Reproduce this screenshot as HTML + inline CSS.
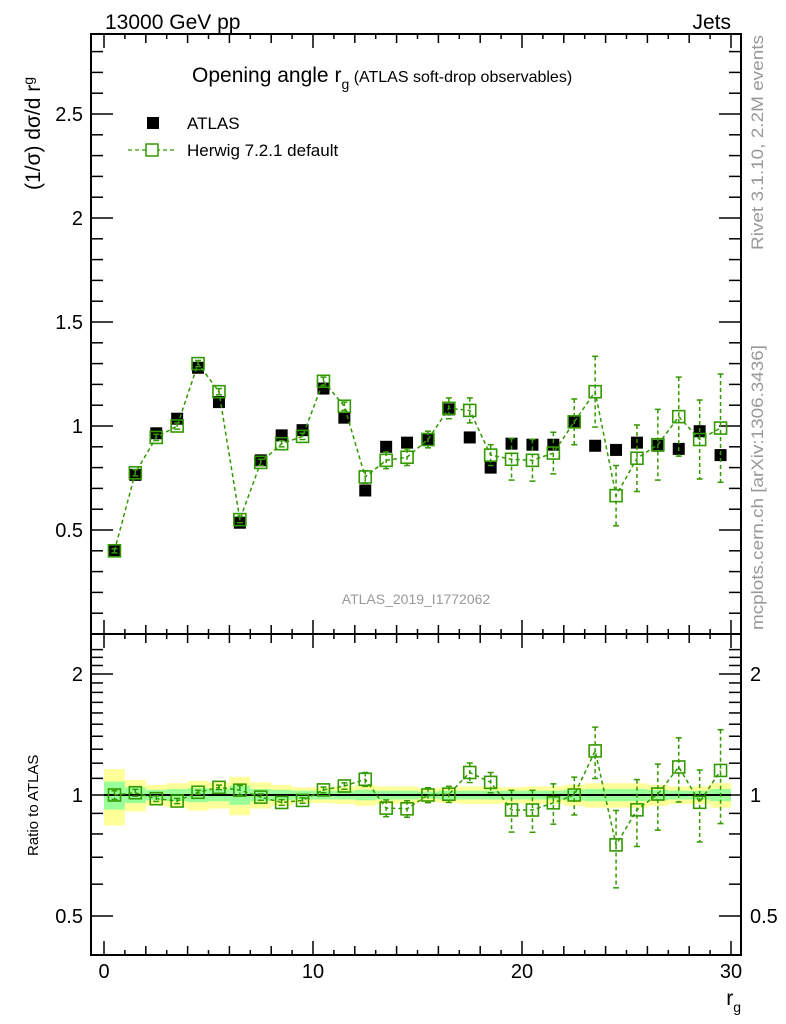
<!DOCTYPE html>
<html><head><meta charset="utf-8"><style>
body{margin:0;background:#fff}
svg{display:block;font-family:"Liberation Sans",sans-serif}
</style></head><body>
<svg id="c" width="786" height="1024">
<text x="105" y="29" font-size="21">13000 GeV pp</text>
<text x="731" y="29" font-size="21" text-anchor="end">Jets</text>
<text x="192" y="82" font-size="21">Opening angle r<tspan font-size="14" dy="7">g</tspan><tspan font-size="16" dy="-7"> (ATLAS soft-drop observables)</tspan></text>
<text transform="translate(40,190) rotate(-90)" font-size="21">(1/σ) dσ/d r<tspan font-size="14" dy="-7">g</tspan></text>
<text transform="translate(763,250) rotate(-90)" font-size="17" fill="#999" textLength="215" lengthAdjust="spacingAndGlyphs">Rivet 3.1.10,  2.2M events</text>
<text transform="translate(763,630) rotate(-90)" font-size="17" fill="#999" textLength="285" lengthAdjust="spacingAndGlyphs">mcplots.cern.ch [arXiv:1306.3436]</text>
<text x="416" y="604" font-size="14" fill="#999" text-anchor="middle">ATLAS_2019_I1772062</text>
<text transform="translate(38,856) rotate(-90)" font-size="15">Ratio to ATLAS</text>
<text x="741" y="1005" font-size="21" text-anchor="end">r<tspan font-size="14" dy="7">g</tspan></text>
<rect x="147" y="117" width="12" height="12" fill="#000"/>
<text x="187" y="129" font-size="17">ATLAS</text>
<line x1="128" y1="150" x2="175" y2="150" stroke="#339900" stroke-dasharray="4,3" stroke-width="1.3"/>
<rect x="146" y="144" width="12" height="12" fill="#fff" stroke="#339900" stroke-width="1.5"/>
<text x="187" y="156" font-size="17">Herwig 7.2.1 default</text>
<g id="g"></g>
</svg>
<script>
const xs=[0.5,1.5,2.5,3.5,4.5,5.5,6.5,7.5,8.5,9.5,10.5,11.5,12.5,13.5,14.5,15.5,16.5,17.5,18.5,19.5,20.5,21.5,22.5,23.5,24.5,25.5,26.5,27.5,28.5,29.5];
const atlas=[0.40,0.765,0.965,1.035,1.28,1.115,0.535,0.835,0.955,0.98,1.18,1.04,0.69,0.90,0.92,0.935,1.08,0.945,0.80,0.915,0.91,0.91,1.02,0.905,0.885,0.92,0.905,0.89,0.975,0.86];
const herwig=[0.40,0.775,0.945,1.0,1.30,1.165,0.55,0.825,0.915,0.95,1.215,1.095,0.755,0.835,0.85,0.935,1.085,1.075,0.86,0.84,0.835,0.87,1.02,1.165,0.665,0.845,0.91,1.045,0.935,0.99];
const herwigErr=[0.01,0.015,0.015,0.015,0.015,0.015,0.015,0.015,0.015,0.015,0.02,0.02,0.03,0.04,0.04,0.04,0.05,0.06,0.05,0.1,0.1,0.1,0.11,0.17,0.145,0.16,0.17,0.19,0.19,0.26];
const yellowErr=[0.16,0.09,0.06,0.07,0.085,0.075,0.11,0.075,0.06,0.045,0.045,0.05,0.06,0.05,0.05,0.04,0.045,0.05,0.05,0.045,0.05,0.05,0.06,0.07,0.07,0.07,0.06,0.05,0.05,0.07];
const greenErr=[0.08,0.045,0.03,0.035,0.04,0.035,0.055,0.035,0.03,0.025,0.025,0.025,0.03,0.025,0.025,0.02,0.025,0.025,0.025,0.025,0.025,0.025,0.03,0.035,0.035,0.035,0.03,0.025,0.025,0.035];
const mainTicks=[0.5,1,1.5,2,2.5];
const ratioTicks=[0.5,1,2];
const xTicks=[0,10,20,30];
const NS="http://www.w3.org/2000/svg",g=document.getElementById('g');
const X=v=>104+20.9*v, Y=v=>634-208*v, R=r=>795-121*Math.log2(r);
const L=91,RT=741,T=34,B=634,RB=955,G="#339900";
function el(t,a,p){const e=document.createElementNS(NS,t);for(const k in a)e.setAttribute(k,a[k]);(p||g).appendChild(e);return e;}
xs.forEach((x,i)=>{
 const b=el('rect',{x:X(x-0.5),width:20.9,y:R(1+yellowErr[i]),height:R(1-yellowErr[i])-R(1+yellowErr[i]),fill:'#ffff99'});
 
 const c=el('rect',{x:X(x-0.5),width:20.9,y:R(1+greenErr[i]),height:R(1-greenErr[i])-R(1+greenErr[i]),fill:'#99ff99'});
 
});
el('line',{x1:X(0),x2:X(30),y1:R(1),y2:R(1),stroke:'#000','stroke-width':2});
el('rect',{x:L,y:T,width:RT-L,height:B-T,fill:'none',stroke:'#000','stroke-width':2});
el('rect',{x:L,y:B,width:RT-L,height:RB-B,fill:'none',stroke:'#000','stroke-width':2});
for(let v=0;v<=30;v++){const len=v%10==0?14:(v%2==0?9:5);
 [[T,1],[B,-1],[B,1],[RB,-1]].forEach(([y,d])=>el('line',{x1:X(v),x2:X(v),y1:y,y2:y+d*len,stroke:'#000','stroke-width':1.5}));}
xTicks.forEach(v=>{const t=el('text',{x:X(v),y:978,'font-size':20,'text-anchor':'middle'});t.textContent=v;});
for(let k=1;k<=28;k++){const v=k/10,len=k%5==0?22:12;
 el('line',{x1:L,x2:L+len,y1:Y(v),y2:Y(v),stroke:'#000','stroke-width':1.5});
 el('line',{x1:RT,x2:RT-len,y1:Y(v),y2:Y(v),stroke:'#000','stroke-width':1.5});}
mainTicks.forEach(v=>{const t=el('text',{x:83,y:Y(v)+7,'font-size':20,'text-anchor':'end'});t.textContent=v;});
for(let k=5;k<=23;k++){const v=k/10;if(R(v)<B+2)continue;const len=(v==0.5||v==1||v==2)?22:12;
 el('line',{x1:L,x2:L+len,y1:R(v),y2:R(v),stroke:'#000','stroke-width':1.5});
 el('line',{x1:RT,x2:RT-len,y1:R(v),y2:R(v),stroke:'#000','stroke-width':1.5});}
ratioTicks.forEach(v=>{const t=el('text',{x:83,y:R(v)+7,'font-size':20,'text-anchor':'end'});t.textContent=v;
 const u=el('text',{x:750,y:R(v)+7,'font-size':20});u.textContent=v;});
xs.forEach((x,i)=>{const r=el('rect',{x:X(x)-6,y:Y(atlas[i])-6,width:12,height:12,fill:'#000'});
 });
el('polyline',{points:xs.map((x,i)=>X(x)+','+Y(herwig[i])).join(' '),fill:'none',stroke:G,'stroke-width':1.5,'stroke-dasharray':'4,3'});
xs.forEach((x,i)=>{const y1=Y(herwig[i]+herwigErr[i]),y2=Y(herwig[i]-herwigErr[i]);
 el('line',{x1:X(x),x2:X(x),y1,y2,stroke:G,'stroke-width':1.5,'stroke-dasharray':'4,3'});
 el('line',{x1:X(x)-3,x2:X(x)+3,y1,y2:y1,stroke:G,'stroke-width':1.5});el('line',{x1:X(x)-3,x2:X(x)+3,y1:y2,y2,stroke:G,'stroke-width':1.5});
 const r=el('rect',{x:X(x)-6,y:Y(herwig[i])-6,width:12,height:12,fill:'none',stroke:G,'stroke-width':1.6});
 });
const ratio=herwig.map((h,i)=>h/atlas[i]);
el('polyline',{points:xs.map((x,i)=>X(x)+','+R(ratio[i])).join(' '),fill:'none',stroke:G,'stroke-width':1.5,'stroke-dasharray':'4,3'});
xs.forEach((x,i)=>{const e=herwigErr[i]/atlas[i],y1=R(ratio[i]+e),y2=R(Math.max(ratio[i]-e,0.3));
 el('line',{x1:X(x),x2:X(x),y1,y2,stroke:G,'stroke-width':1.5,'stroke-dasharray':'4,3'});
 el('line',{x1:X(x)-3,x2:X(x)+3,y1,y2:y1,stroke:G,'stroke-width':1.5});el('line',{x1:X(x)-3,x2:X(x)+3,y1:y2,y2,stroke:G,'stroke-width':1.5});
 const r=el('rect',{x:X(x)-6,y:R(ratio[i])-6,width:12,height:12,fill:'#fff','fill-opacity':0,stroke:G,'stroke-width':1.6});
 });
</script>
</body></html>
